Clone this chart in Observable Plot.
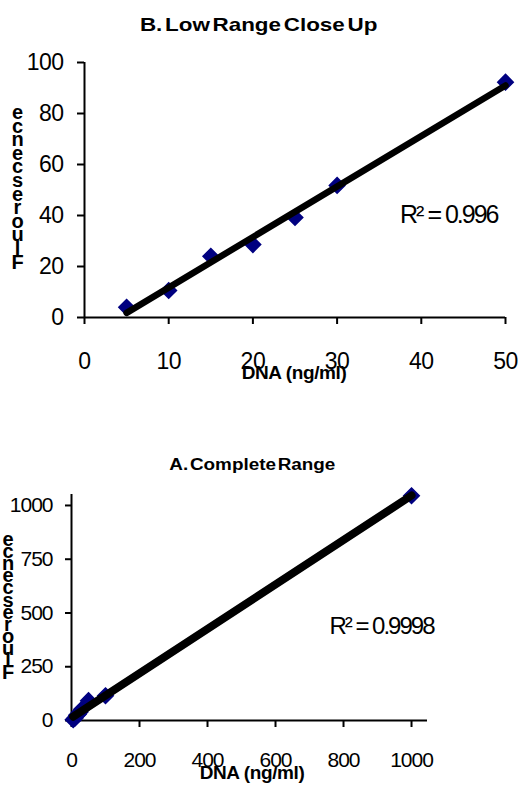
<!DOCTYPE html>
<html><head><meta charset="utf-8">
<script src="https://cdn.jsdelivr.net/npm/d3@7"></script>
<script src="https://cdn.jsdelivr.net/npm/@observablehq/plot@0.6"></script>
<style>
body{margin:0;background:#fff;font-family:"Liberation Sans",Arial,sans-serif;}
#wrap{position:relative;width:519px;height:787px;overflow:hidden;background:#fff}
.plotbox{position:absolute;left:0;z-index:1}
.title{position:absolute;left:0;text-align:center;font-weight:bold;color:#000;white-space:nowrap;z-index:5}
.title span{display:inline-block;transform:scaleX(1.18);word-spacing:-3px}
.xlab{position:absolute;text-align:center;font-weight:bold;font-size:19px;line-height:22px;letter-spacing:-0.4px;white-space:nowrap;color:#000;z-index:5}
svg g[aria-label="text"] text{letter-spacing:-2px}
#p1 g[aria-label="x-axis tick label"] text,#p1 g[aria-label="y-axis tick label"] text{letter-spacing:-0.5px}
#p2 g[aria-label="x-axis tick label"] text,#p2 g[aria-label="y-axis tick label"] text{letter-spacing:-1px}
</style></head><body>
<div id="wrap">
  <div id="p1" class="plotbox" style="top:0px"></div>
  <div id="p2" class="plotbox" style="top:440px"></div>
  <div class="title" style="top:15px;width:517px;font-size:19px;line-height:20px"><span>B. Low Range Close Up</span></div>
  <div class="xlab" style="left:194px;width:200px;top:362px">DNA (ng/ml)</div>
  <div class="title" style="top:456px;width:504px;font-size:16px;line-height:18px"><span>A. Complete Range</span></div>
  <div class="xlab" style="left:152px;width:200px;top:762px">DNA (ng/ml)</div>
</div>
<script>
// Panel B: low range close up
const lowDNA = [5, 10, 15, 20, 25, 30, 50];
const lowFluor = [4, 10.6, 24, 28.6, 39.2, 51.8, 92.3];
const lowXTicks = [0, 10, 20, 30, 40, 50];
const lowYTicks = [0, 20, 40, 60, 80, 100];
const lowR2 = ["R² = 0.996"];

// Panel A: complete range
const fullDNA = [5, 10, 15, 20, 25, 30, 50, 100, 1000];
const fullFluor = [4, 10.6, 24, 28.6, 39.2, 51.8, 92.3, 115, 1045];
const fullXTicks = [0, 200, 400, 600, 800, 1000];
const fullYTicks = [0, 250, 500, 750, 1000];
const fullR2 = ["R² = 0.9998"];

const yLabel = "Fluorescence";

const lowData = lowDNA.map((d, i) => ({dna: d, f: lowFluor[i]}));
const fullData = fullDNA.map((d, i) => ({dna: d, f: fullFluor[i]}));

const font = '"Liberation Sans", Arial, sans-serif';
const plain = d => String(d);

function stackLabel(svg, x, y0, pitch) {
  const t = d3.select(svg).append("text")
    .attr("text-anchor", "middle")
    .attr("font-family", font)
    .attr("font-weight", "bold")
    .attr("font-size", 20)
    .attr("fill", "black");
  const chars = yLabel.split("").reverse();
  chars.forEach((c, i) => {
    t.append("tspan").attr("x", x).attr("y", y0 + i * pitch).text(c);
  });
}

const p1 = Plot.plot({
  width: 519, height: 400,
  marginTop: 62, marginBottom: 83, marginLeft: 84, marginRight: 14,
  style: {fontFamily: font, fontSize: "23px", background: "white", color: "black", overflow: "visible"},
  x: {domain: [0, 50]},
  y: {domain: [0, 100]},
  marks: [
    Plot.axisX(lowXTicks, {tickSize: 7, tickPadding: 28, label: null, strokeWidth: 2, tickFormat: plain}),
    Plot.axisY(lowYTicks, {tickSize: 7, tickPadding: 14, label: null, strokeWidth: 2, tickFormat: plain}),
    Plot.ruleY([0], {stroke: "black", strokeWidth: 2}),
    Plot.ruleX([0], {stroke: "black", strokeWidth: 2}),
    Plot.dot(lowData, {x: "dna", y: "f", symbol: "diamond2", r: 7, fill: "#000080", stroke: "#000080"}),
    Plot.linearRegressionY(lowData, {x: "dna", y: "f", stroke: "black", strokeWidth: 6.5, ci: 0}),
    Plot.text(lowR2, {text: d => d, frameAnchor: "right", textAnchor: "end", dx: -8, dy: 25, fontSize: 25, fill: "black"})
  ]
});
stackLabel(p1, 17.5, 119, 13.6);
document.getElementById("p1").appendChild(p1);

const p2 = Plot.plot({
  width: 519, height: 347,
  marginTop: 54, marginBottom: 67, marginLeft: 71, marginRight: 92,
  style: {fontFamily: font, fontSize: "21px", background: "white", color: "black", overflow: "visible"},
  x: {domain: [0, 1047]},
  y: {domain: [0, 1051]},
  marks: [
    Plot.axisX(fullXTicks, {tickSize: 7, tickPadding: 25, label: null, strokeWidth: 2, tickFormat: plain}),
    Plot.axisY(fullYTicks, {tickSize: 6, tickPadding: 13, label: null, strokeWidth: 2, tickFormat: plain}),
    Plot.ruleY([0], {stroke: "black", strokeWidth: 2}),
    Plot.ruleX([0], {stroke: "black", strokeWidth: 2}),
    Plot.dot(fullData, {x: "dna", y: "f", symbol: "diamond2", r: 7, fill: "#000080", stroke: "#000080"}),
    Plot.linearRegressionY(fullData, {x: "dna", y: "f", stroke: "black", strokeWidth: 8, ci: 0}),
    Plot.text(fullR2, {text: d => d, frameAnchor: "right", textAnchor: "end", dx: 6, dy: 19, fontSize: 24, fill: "black"})
  ]
});
stackLabel(p2, 8, 106, 12.1);
document.getElementById("p2").appendChild(p2);
</script>
</body></html>
